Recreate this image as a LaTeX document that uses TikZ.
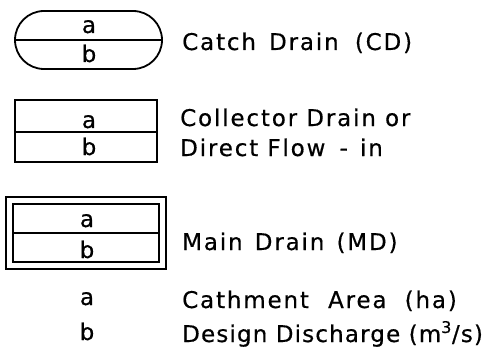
\documentclass[tikz,border=0pt]{standalone}
\usepackage{fontspec}
\setmainfont{DejaVu Sans}[LetterSpace=8,FakeBold=0.5]
\usetikzlibrary{shapes.misc}
\begin{document}
\begin{tikzpicture}[x=1pt,y=-1pt,
  ln/.style={line width=1.8pt},
  lbl/.style={anchor=base west,inner sep=0pt,font=\fontsize{23}{25}\selectfont},
  cell/.style={anchor=base,inner sep=0pt,font=\fontsize{23}{25}\selectfont},
  frame/.style={draw,ln,inner sep=0pt,rectangle}]
\useasboundingbox (0,0) rectangle (492,350);
% Catch drain
\node[draw,ln,rounded rectangle,minimum width=147pt,minimum height=58pt,inner sep=0pt] (cd) at (88.5,40) {};
\draw[ln] (cd.west) -- (cd.east);
\node[cell] (cda) at (89,33) {a};
\node[cell] (cdb) at (89,62) {b};
\node[lbl] (cdt) at (182,50) {Catch\hspace{4pt} Drain\hspace{7pt} (CD)};
% Collector drain
\node[frame,minimum width=142pt,minimum height=62pt] (col) at (86,131) {};
\draw[ln] ([yshift=-1pt]col.west) -- ([yshift=-1pt]col.east);
\node[cell] (cola) at (89,128) {a};
\node[cell] (colb) at (89,155) {b};
\node[lbl] (colt1) at (180,126) {Collector Drain or};
\node[lbl] (colt2) at (180,156) {Direct Flow\hspace{5pt} - \hspace{3pt}in};
% Main drain
\node[frame,minimum width=160pt,minimum height=72pt] (mdo) at (86,233) {};
\node[frame,minimum width=146pt,minimum height=58pt] (md) at (86,233) {};
\draw[ln] (md.west) -- (md.east);
\node[cell] (mda) at (87,227) {a};
\node[cell] (mdb) at (87,258) {b};
\node[lbl] (mdt) at (182,250) {Main\hspace{3pt} Drain\hspace{3pt} (MD)};
% Legend
\node[cell] (la) at (87,305) {a};
\node[cell] (lb) at (87,340) {b};
\node[lbl] (lat) at (182,308) {Cathment\hspace{10pt} Area\hspace{9pt} (ha)};
\node[lbl] (lbt) at (182,342) {\addfontfeature{LetterSpace=5}Design Discharge (m\textsuperscript{3}/s)};
\end{tikzpicture}
\end{document}
